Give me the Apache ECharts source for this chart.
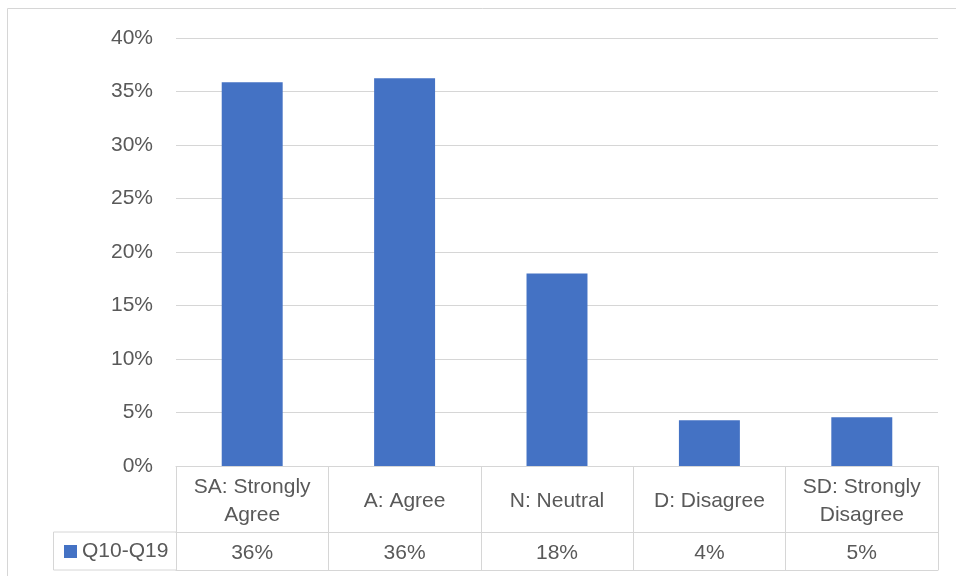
<!DOCTYPE html>
<html>
<head>
<meta charset="utf-8">
<script src="https://cdn.jsdelivr.net/npm/echarts@6/dist/echarts.min.js"></script>
<style>
html,body{margin:0;padding:0;background:#fff;}
#chart{width:956px;height:576px;}
</style>
</head>
<body>
<div id="chart"></div>
<script>
const categories = ['SA: Strongly\nAgree', 'A: Agree', 'N: Neutral', 'D: Disagree', 'SD: Strongly\nDisagree'];
const seriesName = 'Q10-Q19';
const values = [35.86, 36.24, 18.0, 4.27, 4.55];
const yTicks = [0, 5, 10, 15, 20, 25, 30, 35, 40];

const FONT = 'Liberation Sans';
const TXT = '#595959';
const LINE = '#d6d6d6';
const FS = 21;

const chart = echarts.init(document.getElementById('chart'), null, {renderer: 'canvas'});
chart.setOption({
  animation: false,
  backgroundColor: '#fff',
  textStyle: {fontFamily: FONT},
  grid: {left: 176, right: 18, top: 38, bottom: 110, outerBoundsMode: 'none', containLabel: false},
  legend: {
    left: 59, top: 536,
    icon: 'rect', itemWidth: 13, itemHeight: 13, itemGap: 6,
    textStyle: {fontFamily: FONT, fontSize: FS, color: TXT},
    data: [seriesName]
  },
  xAxis: [
    {
      type: 'category', data: categories, position: 'bottom',
      axisLine: {show: true, lineStyle: {color: LINE, width: 1}},
      axisTick: {show: true, length: 104, lineStyle: {color: LINE, width: 1}},
      axisLabel: {
        margin: 35, verticalAlign: 'middle', color: TXT,
        fontFamily: FONT, fontSize: FS, lineHeight: 28, interval: 0
      },
      splitLine: {show: false}
    },
    {
      type: 'category', data: values.map(v => Math.round(v) + '%'), position: 'bottom', offset: 66,
      axisLine: {show: true, lineStyle: {color: LINE, width: 1}},
      axisTick: {show: false},
      axisLabel: {margin: 21, verticalAlign: 'middle', color: TXT, fontFamily: FONT, fontSize: FS, interval: 0},
      splitLine: {show: false}
    },
    {
      type: 'category', data: categories, position: 'bottom', offset: 104,
      axisLine: {show: true, lineStyle: {color: LINE, width: 1}},
      axisTick: {show: false},
      axisLabel: {show: false},
      splitLine: {show: false}
    }
  ],
  yAxis: {
    type: 'value', min: yTicks[0], max: yTicks[yTicks.length - 1], interval: 5,
    axisLine: {show: false}, axisTick: {show: false},
    axisLabel: {formatter: '{value}%', color: TXT, fontFamily: FONT, fontSize: FS, margin: 23, verticalAlign: 'middle', padding: [2, 0, 0, 0]},
    splitLine: {show: true, lineStyle: {color: LINE, width: 1}}
  },
  series: [{
    name: seriesName,
    type: 'bar',
    xAxisIndex: 0,
    data: values,
    barCategoryGap: '60%',
    itemStyle: {color: '#4472C4'}
  }],
  graphic: [
    {type: 'rect', shape: {x: 7.5, y: 8.5, width: 1000, height: 1000}, style: {fill: null, stroke: LINE, lineWidth: 1}, silent: true},
    {type: 'line', shape: {x1: 53.5, y1: 532, x2: 176, y2: 532}, style: {stroke: LINE, lineWidth: 1}, silent: true},
    {type: 'line', shape: {x1: 53.5, y1: 570, x2: 176, y2: 570}, style: {stroke: LINE, lineWidth: 1}, silent: true},
    {type: 'line', shape: {x1: 53.5, y1: 532, x2: 53.5, y2: 570}, style: {stroke: LINE, lineWidth: 1}, silent: true}
  ]
});
</script>
</body>
</html>
